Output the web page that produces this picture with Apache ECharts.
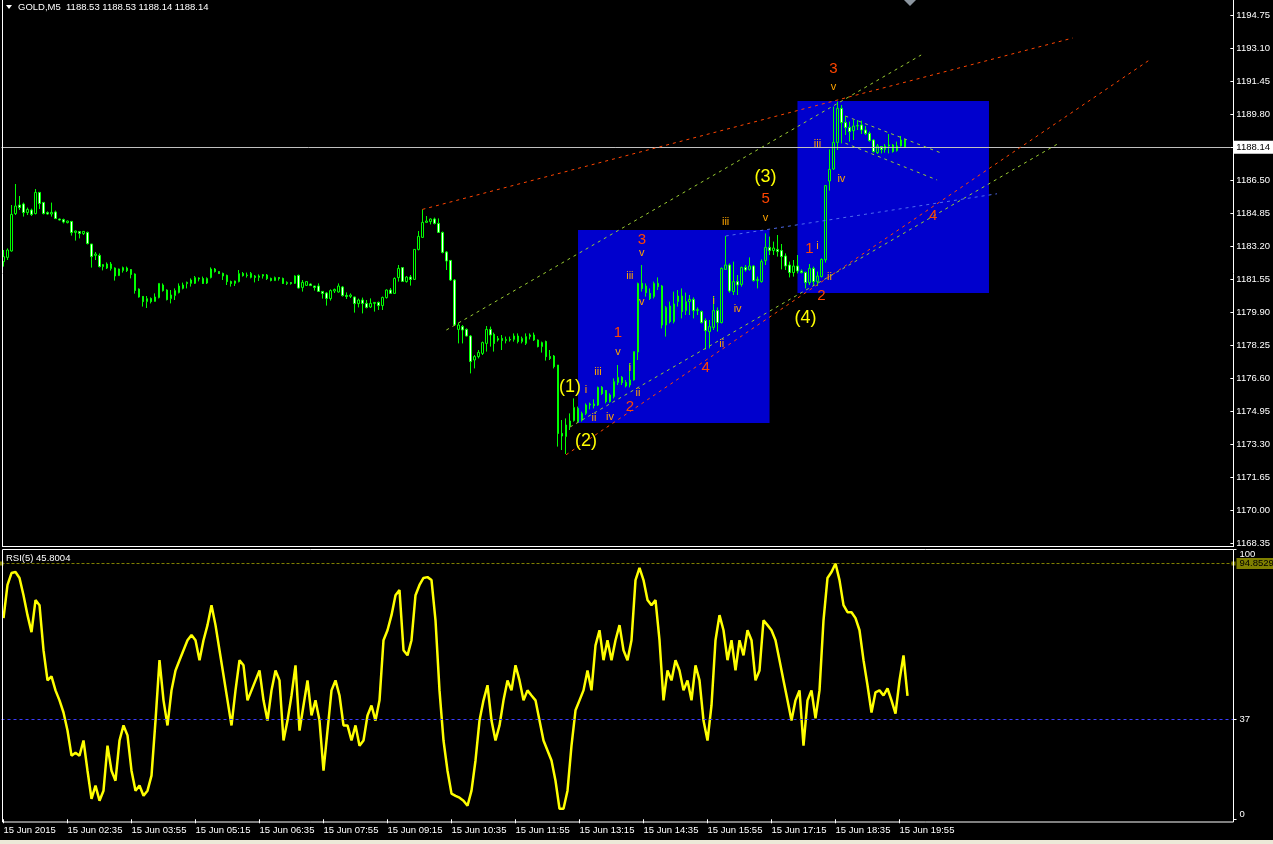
<!DOCTYPE html>
<html><head><meta charset="utf-8">
<script src="https://cdn.jsdelivr.net/npm/echarts@6.0.0/dist/echarts.min.js"></script>
<style>html,body{margin:0;padding:0;background:#000;}#c{width:1273px;height:844px;}</style>
</head><body><div id="c"></div>
<script>
// ---------- DATA ----------
const symbolTitle = 'GOLD,M5';
// [open, close, low, high] per 5-minute bar
const ohlc = [
[1182.42,1182.67,1182.17,1183.00],[1182.63,1183.00,1182.50,1183.08],[1182.95,1184.78,1182.92,1185.25],[1184.82,1185.20,1184.75,1186.30],
[1185.25,1185.12,1185.00,1185.70],[1185.30,1184.87,1184.67,1185.37],[1184.87,1185.03,1184.75,1185.12],[1185.00,1184.78,1184.70,1185.07],
[1184.82,1185.88,1184.78,1186.05],[1185.88,1185.32,1185.05,1185.90],[1185.38,1184.82,1184.78,1185.40],[1184.87,1184.80,1184.77,1184.93],
[1184.80,1184.88,1184.67,1185.37],[1184.90,1184.57,1184.55,1184.97],[1184.55,1184.50,1184.48,1184.57],[1184.52,1184.40,1184.33,1184.57],
[1184.37,1184.45,1184.33,1184.47],[1184.43,1183.87,1183.72,1184.45],[1183.88,1183.95,1183.47,1183.97],[1183.92,1183.83,1183.58,1183.93],
[1183.82,1183.93,1183.75,1183.95],[1183.88,1183.32,1183.28,1183.92],[1183.30,1182.67,1182.12,1183.30],[1182.73,1182.80,1182.50,1182.90],
[1182.73,1182.17,1182.13,1182.83],[1182.17,1182.27,1181.98,1182.30],[1182.30,1182.10,1182.05,1182.38],[1182.07,1182.30,1181.97,1182.40],
[1182.10,1181.70,1181.47,1182.13],[1181.72,1182.05,1181.70,1182.07],[1181.97,1182.12,1181.87,1182.17],[1182.10,1181.97,1181.90,1182.17],
[1182.02,1181.78,1181.58,1182.05],[1181.80,1180.98,1180.82,1181.83],[1181.05,1180.65,1180.62,1181.08],[1180.68,1180.42,1180.17,1180.70],
[1180.42,1180.57,1180.10,1180.70],[1180.57,1180.42,1180.33,1180.63],[1180.43,1180.65,1180.42,1180.83],[1180.62,1181.33,1180.58,1181.33],
[1181.25,1180.97,1180.92,1181.33],[1181.00,1180.52,1180.48,1181.03],[1180.57,1180.75,1180.33,1181.00],[1180.72,1180.97,1180.50,1181.08],
[1180.87,1181.20,1180.83,1181.33],[1181.08,1181.25,1181.03,1181.37],[1181.32,1181.38,1181.08,1181.42],[1181.33,1181.50,1181.17,1181.58],
[1181.33,1181.62,1181.30,1181.70],[1181.60,1181.55,1181.43,1181.63],[1181.57,1181.33,1181.30,1181.67],[1181.35,1181.58,1181.30,1181.63],
[1181.62,1182.05,1181.58,1182.13],[1182.05,1181.93,1181.87,1182.10],[1181.92,1181.82,1181.80,1181.93],[1181.83,1181.70,1181.50,1181.87],
[1181.73,1181.42,1181.25,1181.77],[1181.42,1181.33,1181.17,1181.47],[1181.33,1181.45,1181.20,1181.47],[1181.42,1181.82,1181.38,1182.00],
[1181.82,1181.72,1181.67,1181.90],[1181.72,1181.75,1181.62,1181.87],[1181.63,1181.83,1181.58,1181.90],[1181.70,1181.63,1181.38,1181.75],
[1181.63,1181.70,1181.45,1181.78],[1181.70,1181.77,1181.57,1181.80],[1181.75,1181.57,1181.50,1181.80],[1181.58,1181.48,1181.43,1181.62],
[1181.47,1181.62,1181.45,1181.67],[1181.62,1181.57,1181.47,1181.63],[1181.58,1181.33,1181.30,1181.62],[1181.32,1181.38,1181.25,1181.43],
[1181.37,1181.32,1181.27,1181.40],[1181.33,1181.70,1181.30,1181.73],[1181.73,1181.10,1181.07,1181.77],[1181.13,1181.38,1180.92,1181.50],
[1181.23,1181.42,1181.20,1181.45],[1181.30,1181.22,1181.20,1181.33],[1181.20,1181.13,1180.97,1181.20],[1181.20,1180.93,1180.90,1181.33],
[1180.93,1180.83,1180.57,1180.93],[1180.85,1180.58,1180.22,1180.90],[1180.57,1180.97,1180.47,1181.03],[1180.95,1181.03,1180.85,1181.07],
[1180.90,1181.20,1180.87,1181.33],[1181.15,1180.72,1180.67,1181.20],[1180.73,1180.68,1180.55,1180.88],[1180.68,1180.75,1180.60,1180.83],
[1180.65,1180.32,1179.87,1180.67],[1180.32,1180.50,1180.13,1180.57],[1180.50,1180.33,1179.83,1180.62],[1180.33,1180.13,1180.08,1180.50],
[1180.15,1180.33,1180.10,1180.58],[1180.33,1180.38,1179.92,1180.38],[1180.38,1180.22,1180.00,1180.42],[1180.22,1180.63,1180.00,1180.67],
[1180.62,1181.00,1180.57,1181.03],[1181.00,1180.83,1180.80,1181.10],[1180.83,1181.58,1180.80,1181.63],[1181.62,1182.08,1181.42,1182.25],
[1182.12,1181.43,1181.40,1182.13],[1181.42,1181.65,1181.37,1181.70],[1181.65,1181.53,1181.22,1181.75],[1181.53,1183.03,1181.50,1183.05],
[1183.03,1183.68,1182.98,1183.95],[1183.63,1184.38,1183.60,1185.03],[1184.38,1184.45,1184.37,1184.70],[1184.42,1184.55,1184.28,1184.58],
[1184.55,1184.33,1184.28,1184.62],[1184.33,1183.88,1183.87,1184.58],[1183.88,1182.88,1182.83,1183.92],[1182.90,1182.45,1182.00,1182.95],
[1182.48,1181.50,1181.45,1182.50],[1181.50,1179.25,1179.20,1181.55],[1179.03,1179.25,1178.33,1179.37],[1179.17,1179.00,1178.33,1179.25],
[1179.03,1178.70,1178.67,1179.08],[1178.70,1177.42,1176.83,1178.75],[1177.50,1177.67,1177.08,1177.75],[1177.67,1177.88,1177.58,1178.00],
[1177.83,1178.37,1177.75,1178.42],[1178.33,1179.03,1177.92,1179.20],[1179.03,1178.75,1178.17,1179.17],[1178.78,1178.33,1177.92,1178.87],
[1178.50,1178.58,1178.42,1178.70],[1178.58,1178.47,1178.00,1178.75],[1178.47,1178.53,1178.33,1178.67],[1178.53,1178.50,1178.42,1178.67],
[1178.53,1178.70,1178.42,1178.83],[1178.70,1178.42,1178.33,1178.83],[1178.42,1178.58,1178.33,1178.67],[1178.33,1178.67,1178.25,1178.83],
[1178.67,1178.75,1178.53,1178.83],[1178.75,1178.50,1178.45,1178.87],[1178.50,1178.17,1178.13,1178.53],[1178.17,1178.37,1177.87,1178.42],
[1178.42,1177.67,1177.47,1178.47],[1177.67,1177.58,1177.50,1178.00],[1177.70,1177.17,1177.08,1177.75],[1177.25,1173.83,1173.17,1177.25],
[1173.83,1173.70,1173.00,1174.50],[1173.67,1174.25,1172.80,1174.58],[1174.20,1174.45,1174.00,1174.83],[1174.47,1175.13,1174.42,1175.58],
[1175.08,1174.42,1174.37,1175.17],[1174.50,1174.83,1174.42,1174.92],[1174.83,1175.25,1174.75,1175.33],[1175.25,1175.30,1175.03,1175.37],
[1175.30,1175.22,1175.08,1175.53],[1175.25,1176.13,1175.20,1176.17],[1176.13,1175.83,1175.75,1176.20],[1175.97,1175.42,1175.33,1176.00],
[1175.42,1175.75,1175.37,1175.83],[1175.67,1176.42,1175.58,1176.58],[1176.37,1176.63,1176.25,1177.25],[1176.63,1176.37,1176.25,1176.70],
[1176.37,1176.20,1176.13,1176.50],[1176.25,1176.50,1176.13,1177.33],[1176.50,1177.92,1176.47,1177.92],[1177.90,1181.33,1177.50,1181.37],
[1181.33,1181.08,1180.92,1182.25],[1181.20,1180.87,1180.67,1181.33],[1180.83,1180.58,1180.50,1181.08],[1180.67,1181.33,1180.58,1181.42],
[1181.33,1181.17,1181.00,1181.63],[1181.20,1179.25,1179.08,1181.25],[1179.25,1180.13,1178.67,1180.20],[1180.20,1179.42,1179.33,1180.42],
[1179.42,1180.30,1179.33,1180.92],[1180.42,1180.70,1180.17,1181.00],[1180.70,1179.92,1179.58,1181.08],[1179.97,1180.42,1179.75,1180.87],
[1180.42,1180.53,1179.75,1180.75],[1180.53,1179.97,1179.58,1180.63],[1179.97,1180.03,1179.75,1180.13],[1179.92,1179.37,1179.33,1179.97],
[1179.47,1178.97,1178.03,1179.58],[1178.92,1179.17,1178.08,1179.50],[1179.13,1179.97,1179.00,1180.70],[1179.97,1179.37,1178.92,1180.13],
[1179.37,1182.08,1179.33,1182.13],[1182.03,1182.25,1182.00,1183.70],[1182.25,1180.95,1180.87,1182.33],[1180.92,1181.42,1180.75,1182.42],
[1181.42,1181.25,1180.75,1181.75],[1181.28,1182.13,1181.17,1182.17],[1182.13,1182.00,1181.92,1182.25],[1182.03,1182.20,1181.97,1182.63],
[1182.20,1181.47,1181.42,1182.25],[1181.47,1181.53,1181.08,1181.67],[1181.42,1182.42,1181.37,1182.53],[1182.47,1183.13,1182.25,1183.83],
[1183.13,1182.97,1182.75,1183.67],[1182.97,1183.10,1182.75,1183.42],[1183.03,1182.92,1182.67,1183.75],[1182.97,1182.67,1182.03,1183.30],
[1182.70,1182.20,1182.00,1182.83],[1182.25,1181.87,1181.63,1182.42],[1181.87,1182.20,1181.67,1182.50],[1182.20,1181.95,1181.83,1182.75],
[1181.95,1181.87,1181.83,1182.03],[1181.88,1181.37,1181.08,1181.92],[1181.37,1182.08,1181.25,1182.30],[1182.08,1181.42,1181.20,1182.17],
[1181.42,1181.70,1181.20,1181.92],[1181.67,1182.53,1181.63,1182.58],[1182.50,1186.22,1182.37,1186.25],[1186.45,1187.03,1185.97,1188.03],
[1187.05,1188.38,1187.00,1190.17],[1188.38,1190.08,1188.00,1190.42],[1190.08,1189.37,1188.33,1190.25],[1189.37,1189.13,1188.75,1189.70],
[1189.13,1188.92,1188.42,1189.42],[1188.97,1189.20,1188.50,1189.50],[1189.20,1189.23,1189.00,1189.50],[1189.25,1189.00,1188.80,1189.47],
[1189.00,1188.83,1188.75,1189.20],[1188.83,1188.47,1188.42,1188.92],[1188.50,1187.92,1187.87,1188.53],[1187.87,1188.20,1187.80,1188.30],
[1188.17,1188.03,1187.83,1188.20],[1188.03,1188.20,1187.87,1188.30],[1188.20,1188.25,1187.83,1188.80],[1188.25,1187.92,1187.87,1188.30],
[1187.97,1188.20,1187.92,1188.42],[1188.20,1188.50,1188.17,1188.70],[1188.53,1188.14,1188.14,1188.53]
];
// RSI(5) values per bar
const rsi = [
74.6,86.9,91.3,91.7,89.5,83.1,75.7,69.4,81.3,79.4,
62.7,51.5,53.0,47.8,44.1,39.6,32.9,23.6,24.7,23.6,
29.2,18.0,7.6,12.5,6.9,10.6,27.3,18.0,14.3,29.2,
34.8,31.1,18.0,10.6,12.5,8.7,10.6,16.2,36.6,59.0,
44.1,34.8,47.8,55.2,59.0,62.7,66.4,68.3,66.4,59.0,
66.4,72.0,79.4,72.0,62.7,53.4,44.1,34.8,47.8,59.0,
57.1,44.1,47.8,51.5,55.2,44.1,36.6,47.8,55.2,51.5,
29.2,36.6,45.9,57.1,32.9,42.2,51.5,38.5,44.1,36.6,
18.0,32.9,47.8,51.5,45.9,34.8,34.8,29.2,34.8,27.3,
29.2,38.5,42.2,36.6,44.1,66.4,70.1,75.7,83.1,85.0,
62.7,60.8,66.4,83.1,86.9,89.5,89.8,88.7,73.8,47.8,
29.2,18.0,9.5,8.7,8.0,6.9,5.0,10.6,21.8,36.6,
44.1,49.7,36.6,29.2,34.8,44.1,51.5,47.8,57.1,51.5,
44.1,47.8,45.9,44.1,36.6,29.2,25.5,21.8,14.3,3.9,
3.9,10.6,27.3,40.4,44.1,47.8,55.2,47.8,64.5,70.1,
59.0,66.4,59.0,66.4,72.0,62.7,59.0,66.4,88.7,93.2,
88.7,81.3,79.4,81.3,66.4,44.1,55.2,51.5,59.0,55.2,
47.8,51.5,44.1,57.1,51.5,36.6,29.2,42.2,66.4,75.7,
70.1,59.0,66.4,55.2,66.4,60.8,70.1,66.4,51.5,55.2,
73.8,72.0,70.1,66.4,59.0,51.5,44.1,36.6,44.1,47.8,
27.3,44.1,47.8,37.4,47.8,73.8,89.5,91.7,94.85,88.7,
79.4,76.8,76.8,74.6,70.1,59.0,49.7,39.6,47.1,47.8,
45.9,48.5,44.1,39.2,51.5,60.8,45.8004
];
const timeLabels = ['15 Jun 2015','15 Jun 02:35','15 Jun 03:55','15 Jun 05:15','15 Jun 06:35','15 Jun 07:55','15 Jun 09:15',
  '15 Jun 10:35','15 Jun 11:55','15 Jun 13:15','15 Jun 14:35','15 Jun 15:55','15 Jun 17:15','15 Jun 18:35','15 Jun 19:55'];
const barsPerLabel = 16;
const priceMin = 1168.35, priceMax = 1194.75, priceStep = 1.65;
const rsiTicks = [0, 37, 100];
const bidPrice = 1188.14;
const rsiMarkLevel = 94.8529;
const rsiLowLevel = 37;
// rectangles: [barFrom, priceTop, barTo, priceBottom]
const boxes = [[144,1184.0,192,1174.35],[199,1190.45,247,1180.85]];
// trend lines: [barFrom, priceFrom, barTo, priceTo]
const redLines = [[105,1185.03,268,1193.6],[141,1172.76,287,1192.47]];
const greenLines = [[111,1179.0,230,1192.75],[142,1174.15,264,1188.28],[211,1189.7,235,1187.85],[211,1188.34,234,1186.5]];
const blueLines = [[181,1183.7,249,1185.81]];
// wave labels: [text, bar, price]
const degreeLabels = [['(1)',142,1176.15],['(2)',146,1173.45],['(3)',191,1186.65],['(4)',201,1179.6]];
const waveNumbers = [['1',154,1178.85],['2',157,1175.15],['3',160,1183.5],['4',176,1177.1],['5',191,1185.55],
  ['1',202,1183.05],['2',205,1180.7],['3',208,1192.05],['4',233,1184.7]];
const subWaves = [['i',146,1176.0],['ii',148,1174.6],['iii',149,1176.9],['iv',152,1174.65],['v',154,1177.9],
  ['i',157,1177.1],['ii',159,1175.85],['v',160,1182.85],['iii',157,1181.7],['v',160,1180.4],
  ['i',178,1180.45],['ii',180,1178.3],['iii',181,1184.4],['iv',184,1180.05],['v',191,1184.6],
  ['iii',204,1188.3],['iv',210,1186.55],['v',208,1191.15],['i',204,1183.2],['ii',207,1181.65]];

// ---------- CHART ----------
const SLOTS = 308;
const cats = Array.from({length: SLOTS}, (_, i) => i);
const fnt = '"Liberation Sans", Arial, sans-serif';
const showTick = (idx) => idx % barsPerLabel === 0 && idx / barsPerLabel < timeLabels.length;
const last = ohlc[ohlc.length - 1];
const titleText = symbolTitle + '  ' + [last[0], Math.max(last[0], last[1], last[3]), last[2], last[1]].map(v => v.toFixed(2)).join(' ');

const lineItems = (arr, color) => arr.map(l => [
  {coord: [l[0], l[1]], lineStyle: {color: color, type: [3, 4], width: 1}},
  {coord: [l[2], l[3]]}
]);
const labelGroups = [
  {items: degreeLabels, color: '#ffff00', size: 18},
  {items: waveNumbers, color: '#ff4500', size: 15},
  {items: subWaves, color: '#ffa500', size: 11}
];
const markPts = [];
labelGroups.forEach(g => g.items.forEach(it => markPts.push({
  name: it[0], coord: [it[1], it[2]],
  label: {show: true, position: 'inside', formatter: it[0], color: g.color, fontSize: g.size, fontFamily: fnt}
})));
const levelSeries = (level, color, dash, extra) => Object.assign({
  type: 'line', xAxisIndex: 1, yAxisIndex: 1, data: [], silent: true, z: 1, color: color,
  markLine: Object.assign({silent: true, symbol: ['none', 'none'], label: {show: false},
    lineStyle: {color: color, type: dash, width: 1, opacity: 1},
    data: [{yAxis: level}]}, extra || {})
});

const chart = echarts.init(document.getElementById('c'));
chart.setOption({
  backgroundColor: '#000',
  animation: false,
  grid: [
    {left: 1.5, width: 1232, top: 15, height: 528},
    {left: 1.5, width: 1232, top: 549.62, height: 269.65}
  ],
  xAxis: [
    {type: 'category', gridIndex: 0, data: cats, boundaryGap: true, show: false},
    {type: 'category', gridIndex: 1, data: cats, boundaryGap: true, position: 'bottom', offset: 2.7,
      axisLine: {show: false},
      axisTick: {show: true, alignWithLabel: true, interval: (i) => showTick(i), length: 4, lineStyle: {color: '#fff'}},
      axisLabel: {interval: (i) => showTick(i), formatter: (v, i) => timeLabels[Math.round(i / barsPerLabel)] || '',
        color: '#fff', fontSize: 9.5, fontFamily: fnt, align: 'left', margin: 3},
      splitLine: {show: false}}
  ],
  yAxis: [
    {type: 'value', gridIndex: 0, position: 'right', min: priceMin, max: priceMax, interval: priceStep,
      axisLine: {show: false}, splitLine: {show: false},
      axisTick: {show: true, length: 3, lineStyle: {color: '#fff'}},
      axisLabel: {color: '#fff', fontSize: 9.5, fontFamily: fnt, margin: 6, showMinLabel: true, showMaxLabel: true,
        formatter: v => v.toFixed(2)}},
    {type: 'value', gridIndex: 1, position: 'right', min: 0, max: 100,
      axisLine: {show: false}, splitLine: {show: false},
      axisTick: {show: true, length: 3, customValues: rsiTicks, lineStyle: {color: '#fff'}},
      axisLabel: {customValues: rsiTicks, margin: 6,
        formatter: v => v === 100 ? '{t|100}' : (v === 0 ? '{b|0}' : '{m|' + v + '}'),
        rich: {
          t: {color: '#fff', fontSize: 9.5, fontFamily: fnt, padding: [10, 0, 0, 0]},
          b: {color: '#fff', fontSize: 9.5, fontFamily: fnt, padding: [0, 0, 9, 0]},
          m: {color: '#fff', fontSize: 9.5, fontFamily: fnt}
        }}}
  ],
  series: [
    {
      type: 'candlestick', xAxisIndex: 0, yAxisIndex: 0, data: ohlc, barWidth: 2,
      itemStyle: {color: 'rgba(0,0,0,0)', color0: '#ffffff', borderColor: '#00ff00', borderColor0: '#00ff00', borderWidth: 1},
      markArea: {silent: true, itemStyle: {color: '#0000cd'},
        data: boxes.map(b => [{coord: [b[0], b[1]]}, {coord: [b[2], b[3]]}])},
      markLine: {silent: true, symbol: ['none', 'none'], label: {show: false},
        data: [
          {yAxis: bidPrice, lineStyle: {color: '#c0c0c0', type: 'solid', width: 1},
            label: {show: true, position: 'end', formatter: bidPrice.toFixed(2), backgroundColor: '#ffffff',
              color: '#000', padding: [2, 3, 1, 3], fontSize: 9.5, fontFamily: fnt, distance: 3}}
        ].concat(lineItems(redLines, '#ff4500'), lineItems(greenLines, '#9acd32'), lineItems(blueLines, '#4f6bed'))},
      markPoint: {silent: true, symbol: 'circle', symbolSize: 1, itemStyle: {color: 'rgba(0,0,0,0)'}, data: markPts}
    },
    levelSeries(rsiLowLevel, '#3c3cff', [3, 3]),
    levelSeries(rsiMarkLevel, '#808000', [3, 2], {
      symbol: ['rect', 'rect'], symbolSize: 4, itemStyle: {color: '#ffffff'},
      label: {show: true, position: 'end', formatter: rsiMarkLevel.toFixed(4), backgroundColor: '#808000',
        color: '#000', padding: [1, 3, 0, 3], fontSize: 9.5, fontFamily: fnt, distance: 3}}),
    {
      type: 'line', xAxisIndex: 1, yAxisIndex: 1, data: rsi, symbol: 'none', showSymbol: false, z: 3,
      lineStyle: {color: '#ffff00', width: 2.5}
    }
  ],
  graphic: [
    {type: 'line', z: 100, shape: {x1: 2.5, y1: 0, x2: 2.5, y2: 546.5}, style: {stroke: '#fff', lineWidth: 1}},
    {type: 'line', z: 100, shape: {x1: 1233.5, y1: 0, x2: 1233.5, y2: 546.5}, style: {stroke: '#fff', lineWidth: 1}},
    {type: 'line', z: 100, shape: {x1: 2, y1: 546.5, x2: 1234, y2: 546.5}, style: {stroke: '#fff', lineWidth: 1}},
    {type: 'rect', z: 100, shape: {x: 2.5, y: 549.5, width: 1231, height: 272.5}, style: {fill: 'transparent', stroke: '#fff', lineWidth: 1}},
    {type: 'polygon', z: 100, shape: {points: [[6, 5], [12, 5], [9, 9]]}, style: {fill: '#fff'}},
    {type: 'text', z: 100, left: 18, top: 2, style: {text: titleText, fill: '#fff', fontSize: 9.5, fontFamily: fnt}},
    {type: 'text', z: 100, left: 6, top: 553, style: {text: 'RSI(5) ' + rsi[rsi.length - 1].toFixed(4), fill: '#fff', fontSize: 9.5, fontFamily: fnt}},
    {type: 'polygon', z: 100, shape: {points: [[904, 0], [916, 0], [910, 6]]}, style: {fill: '#8c96a0'}},
    {type: 'rect', z: 100, shape: {x: 0, y: 840, width: 1273, height: 4}, style: {fill: '#ece9d8'}}
  ]
});
</script>
</body></html>
